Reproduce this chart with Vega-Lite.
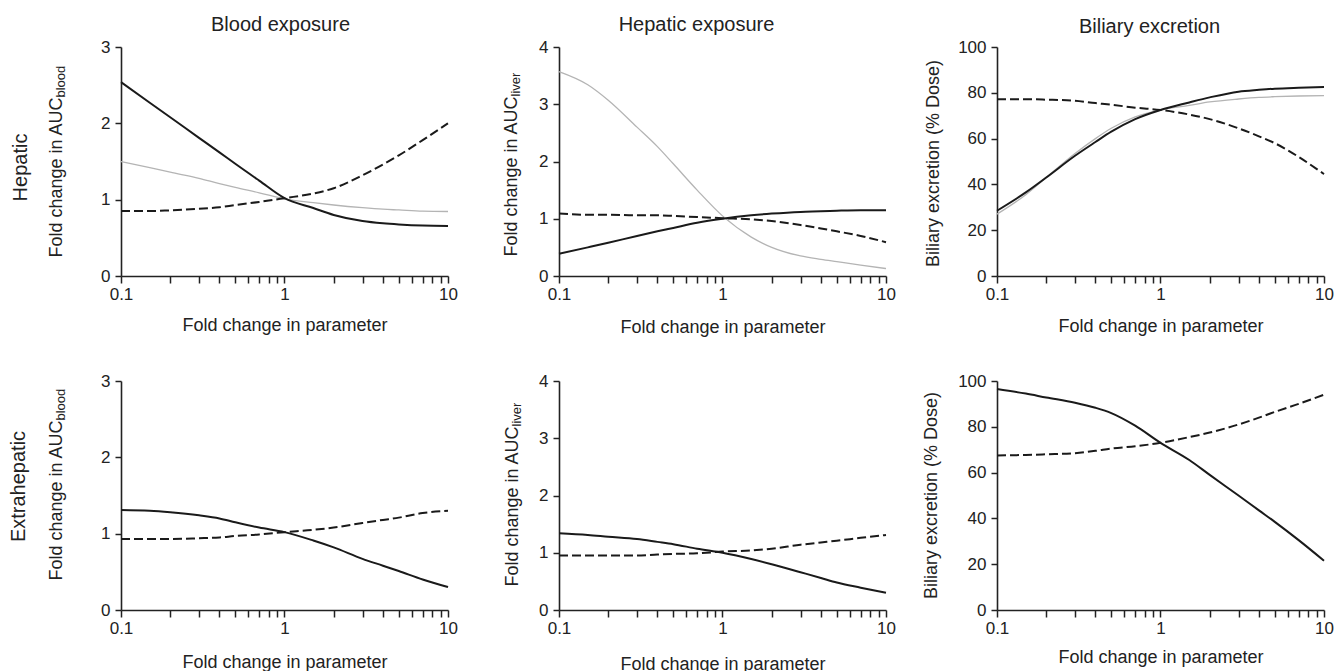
{
  "$schema": "https://vega.github.io/schema/vega-lite/v6.json",
  "padding": {"left": 7, "top": 15, "right": 0, "bottom": 0},
  "background": "white",
  "datasets": {
    "p1": [
      {"x":0.1,"y":2.54,"s":"solid"},{"x":0.15,"y":2.27,"s":"solid"},{"x":0.2,"y":2.08,"s":"solid"},{"x":0.3,"y":1.81,"s":"solid"},{"x":0.4,"y":1.62,"s":"solid"},{"x":0.5,"y":1.47,"s":"solid"},{"x":0.7,"y":1.25,"s":"solid"},{"x":1,"y":1.02,"s":"solid"},{"x":1.5,"y":0.89,"s":"solid"},{"x":2,"y":0.8,"s":"solid"},{"x":3,"y":0.72,"s":"solid"},{"x":4,"y":0.69,"s":"solid"},{"x":5,"y":0.675,"s":"solid"},{"x":7,"y":0.66,"s":"solid"},{"x":10,"y":0.655,"s":"solid"},
      {"x":0.1,"y":1.5,"s":"gray"},{"x":0.15,"y":1.42,"s":"gray"},{"x":0.2,"y":1.36,"s":"gray"},{"x":0.3,"y":1.28,"s":"gray"},{"x":0.4,"y":1.21,"s":"gray"},{"x":0.5,"y":1.16,"s":"gray"},{"x":0.7,"y":1.09,"s":"gray"},{"x":1,"y":1.01,"s":"gray"},{"x":1.5,"y":0.96,"s":"gray"},{"x":2,"y":0.93,"s":"gray"},{"x":3,"y":0.895,"s":"gray"},{"x":4,"y":0.875,"s":"gray"},{"x":5,"y":0.865,"s":"gray"},{"x":7,"y":0.85,"s":"gray"},{"x":10,"y":0.845,"s":"gray"},
      {"x":0.1,"y":0.85,"s":"dash"},{"x":0.15,"y":0.85,"s":"dash"},{"x":0.2,"y":0.86,"s":"dash"},{"x":0.3,"y":0.88,"s":"dash"},{"x":0.4,"y":0.9,"s":"dash"},{"x":0.5,"y":0.93,"s":"dash"},{"x":0.7,"y":0.97,"s":"dash"},{"x":1,"y":1.02,"s":"dash"},{"x":1.5,"y":1.08,"s":"dash"},{"x":2,"y":1.15,"s":"dash"},{"x":3,"y":1.32,"s":"dash"},{"x":4,"y":1.46,"s":"dash"},{"x":5,"y":1.58,"s":"dash"},{"x":7,"y":1.78,"s":"dash"},{"x":10,"y":2.0,"s":"dash"}
    ],
    "p2": [
      {"x":0.1,"y":0.39,"s":"solid"},{"x":0.15,"y":0.5,"s":"solid"},{"x":0.2,"y":0.58,"s":"solid"},{"x":0.3,"y":0.7,"s":"solid"},{"x":0.4,"y":0.78,"s":"solid"},{"x":0.5,"y":0.84,"s":"solid"},{"x":0.7,"y":0.93,"s":"solid"},{"x":1,"y":1.0,"s":"solid"},{"x":1.5,"y":1.06,"s":"solid"},{"x":2,"y":1.09,"s":"solid"},{"x":3,"y":1.12,"s":"solid"},{"x":4,"y":1.13,"s":"solid"},{"x":5,"y":1.14,"s":"solid"},{"x":7,"y":1.15,"s":"solid"},{"x":10,"y":1.15,"s":"solid"},
      {"x":0.1,"y":3.57,"s":"gray"},{"x":0.15,"y":3.34,"s":"gray"},{"x":0.2,"y":3.07,"s":"gray"},{"x":0.3,"y":2.6,"s":"gray"},{"x":0.4,"y":2.26,"s":"gray"},{"x":0.5,"y":1.96,"s":"gray"},{"x":0.7,"y":1.5,"s":"gray"},{"x":1,"y":1.05,"s":"gray"},{"x":1.5,"y":0.68,"s":"gray"},{"x":2,"y":0.5,"s":"gray"},{"x":3,"y":0.35,"s":"gray"},{"x":4,"y":0.29,"s":"gray"},{"x":5,"y":0.25,"s":"gray"},{"x":7,"y":0.19,"s":"gray"},{"x":10,"y":0.13,"s":"gray"},
      {"x":0.1,"y":1.09,"s":"dash"},{"x":0.15,"y":1.07,"s":"dash"},{"x":0.2,"y":1.07,"s":"dash"},{"x":0.3,"y":1.06,"s":"dash"},{"x":0.4,"y":1.06,"s":"dash"},{"x":0.5,"y":1.05,"s":"dash"},{"x":0.7,"y":1.03,"s":"dash"},{"x":1,"y":1.01,"s":"dash"},{"x":1.5,"y":0.99,"s":"dash"},{"x":2,"y":0.96,"s":"dash"},{"x":3,"y":0.89,"s":"dash"},{"x":4,"y":0.83,"s":"dash"},{"x":5,"y":0.78,"s":"dash"},{"x":7,"y":0.7,"s":"dash"},{"x":10,"y":0.59,"s":"dash"}
    ],
    "p3": [
      {"x":0.1,"y":28.5,"s":"solid"},{"x":0.15,"y":36.5,"s":"solid"},{"x":0.2,"y":43,"s":"solid"},{"x":0.3,"y":52.5,"s":"solid"},{"x":0.4,"y":58.5,"s":"solid"},{"x":0.5,"y":63,"s":"solid"},{"x":0.7,"y":68.5,"s":"solid"},{"x":1,"y":72.5,"s":"solid"},{"x":1.5,"y":75.8,"s":"solid"},{"x":2,"y":78,"s":"solid"},{"x":3,"y":80.5,"s":"solid"},{"x":4,"y":81.3,"s":"solid"},{"x":5,"y":81.8,"s":"solid"},{"x":7,"y":82.2,"s":"solid"},{"x":10,"y":82.5,"s":"solid"},
      {"x":0.1,"y":27,"s":"gray"},{"x":0.15,"y":35.5,"s":"gray"},{"x":0.2,"y":43,"s":"gray"},{"x":0.3,"y":53.5,"s":"gray"},{"x":0.4,"y":60,"s":"gray"},{"x":0.5,"y":64.5,"s":"gray"},{"x":0.7,"y":69.5,"s":"gray"},{"x":1,"y":72.5,"s":"gray"},{"x":1.5,"y":74.5,"s":"gray"},{"x":2,"y":76,"s":"gray"},{"x":3,"y":77.3,"s":"gray"},{"x":4,"y":78,"s":"gray"},{"x":5,"y":78.3,"s":"gray"},{"x":7,"y":78.6,"s":"gray"},{"x":10,"y":78.8,"s":"gray"},
      {"x":0.1,"y":77.2,"s":"dash"},{"x":0.15,"y":77.2,"s":"dash"},{"x":0.2,"y":77,"s":"dash"},{"x":0.3,"y":76.5,"s":"dash"},{"x":0.4,"y":75.5,"s":"dash"},{"x":0.5,"y":74.8,"s":"dash"},{"x":0.7,"y":73.5,"s":"dash"},{"x":1,"y":72.5,"s":"dash"},{"x":1.5,"y":70.5,"s":"dash"},{"x":2,"y":68.5,"s":"dash"},{"x":3,"y":64.5,"s":"dash"},{"x":4,"y":61,"s":"dash"},{"x":5,"y":58,"s":"dash"},{"x":7,"y":52,"s":"dash"},{"x":10,"y":44.5,"s":"dash"}
    ],
    "p4": [
      {"x":0.1,"y":1.31,"s":"solid"},{"x":0.15,"y":1.3,"s":"solid"},{"x":0.2,"y":1.28,"s":"solid"},{"x":0.3,"y":1.24,"s":"solid"},{"x":0.4,"y":1.2,"s":"solid"},{"x":0.5,"y":1.15,"s":"solid"},{"x":0.7,"y":1.08,"s":"solid"},{"x":1,"y":1.02,"s":"solid"},{"x":1.5,"y":0.91,"s":"solid"},{"x":2,"y":0.82,"s":"solid"},{"x":3,"y":0.67,"s":"solid"},{"x":4,"y":0.58,"s":"solid"},{"x":5,"y":0.51,"s":"solid"},{"x":7,"y":0.4,"s":"solid"},{"x":10,"y":0.3,"s":"solid"},
      {"x":0.1,"y":0.93,"s":"dash"},{"x":0.15,"y":0.93,"s":"dash"},{"x":0.2,"y":0.93,"s":"dash"},{"x":0.3,"y":0.94,"s":"dash"},{"x":0.4,"y":0.95,"s":"dash"},{"x":0.5,"y":0.97,"s":"dash"},{"x":0.7,"y":0.99,"s":"dash"},{"x":1,"y":1.02,"s":"dash"},{"x":1.5,"y":1.05,"s":"dash"},{"x":2,"y":1.08,"s":"dash"},{"x":3,"y":1.14,"s":"dash"},{"x":4,"y":1.18,"s":"dash"},{"x":5,"y":1.21,"s":"dash"},{"x":7,"y":1.27,"s":"dash"},{"x":10,"y":1.3,"s":"dash"}
    ],
    "p5": [
      {"x":0.1,"y":1.34,"s":"solid"},{"x":0.15,"y":1.31,"s":"solid"},{"x":0.2,"y":1.28,"s":"solid"},{"x":0.3,"y":1.24,"s":"solid"},{"x":0.4,"y":1.19,"s":"solid"},{"x":0.5,"y":1.15,"s":"solid"},{"x":0.7,"y":1.07,"s":"solid"},{"x":1,"y":1.0,"s":"solid"},{"x":1.5,"y":0.89,"s":"solid"},{"x":2,"y":0.8,"s":"solid"},{"x":3,"y":0.66,"s":"solid"},{"x":4,"y":0.56,"s":"solid"},{"x":5,"y":0.48,"s":"solid"},{"x":7,"y":0.39,"s":"solid"},{"x":10,"y":0.3,"s":"solid"},
      {"x":0.1,"y":0.95,"s":"dash"},{"x":0.15,"y":0.95,"s":"dash"},{"x":0.2,"y":0.95,"s":"dash"},{"x":0.3,"y":0.95,"s":"dash"},{"x":0.4,"y":0.97,"s":"dash"},{"x":0.5,"y":0.98,"s":"dash"},{"x":0.7,"y":0.99,"s":"dash"},{"x":1,"y":1.02,"s":"dash"},{"x":1.5,"y":1.04,"s":"dash"},{"x":2,"y":1.07,"s":"dash"},{"x":3,"y":1.14,"s":"dash"},{"x":4,"y":1.18,"s":"dash"},{"x":5,"y":1.21,"s":"dash"},{"x":7,"y":1.26,"s":"dash"},{"x":10,"y":1.31,"s":"dash"}
    ],
    "p6": [
      {"x":0.1,"y":96.5,"s":"solid"},{"x":0.15,"y":94.5,"s":"solid"},{"x":0.2,"y":92.8,"s":"solid"},{"x":0.3,"y":90.5,"s":"solid"},{"x":0.4,"y":88.3,"s":"solid"},{"x":0.5,"y":86,"s":"solid"},{"x":0.7,"y":80.5,"s":"solid"},{"x":1,"y":73,"s":"solid"},{"x":1.5,"y":65.5,"s":"solid"},{"x":2,"y":59,"s":"solid"},{"x":3,"y":50,"s":"solid"},{"x":4,"y":43.5,"s":"solid"},{"x":5,"y":38.5,"s":"solid"},{"x":7,"y":30.5,"s":"solid"},{"x":10,"y":21.5,"s":"solid"},
      {"x":0.1,"y":67.5,"s":"dash"},{"x":0.15,"y":67.7,"s":"dash"},{"x":0.2,"y":68,"s":"dash"},{"x":0.3,"y":68.5,"s":"dash"},{"x":0.4,"y":69.5,"s":"dash"},{"x":0.5,"y":70.5,"s":"dash"},{"x":0.7,"y":71.5,"s":"dash"},{"x":1,"y":73,"s":"dash"},{"x":1.5,"y":75.5,"s":"dash"},{"x":2,"y":77.5,"s":"dash"},{"x":3,"y":81,"s":"dash"},{"x":4,"y":84,"s":"dash"},{"x":5,"y":86.5,"s":"dash"},{"x":7,"y":90,"s":"dash"},{"x":10,"y":94,"s":"dash"}
    ]
  },
  "columns": 3,
  "spacing": {"row": 105, "column": 111},
  "bounds": "flush",
  "concat": [
    {
      "width": 327, "height": 229,
      "title": {"text": "Blood exposure", "frame": "group", "anchor": "middle", "dx": -4, "offset": -13, "baseline": "alphabetic"},
      "data": {"name": "p1"},
      "encoding": {"x": {"field": "x", "type": "quantitative", "scale": {"type": "log", "domain": [0.1, 10], "nice": false}, "axis": {"values": [0.1,0.2,0.3,0.4,0.5,0.6,0.7,0.8,0.9,1,2,3,4,5,6,7,8,9,10], "labelExpr": "datum.value == 0.1 ? '0.1' : datum.value == 1 ? '1' : datum.value == 10 ? '10' : ''", "title": "Fold change in parameter", "titleY": 54, "titleBaseline": "alphabetic"}}},
      "layer": [
        {"transform": [{"filter": "datum.s == 'gray'"}], "mark": {"type": "line", "color": "#b4b4b4", "strokeWidth": 1.3, "interpolate": "monotone"},
         "encoding": {"y": {"field": "y", "type": "quantitative", "scale": {"domain": [0, 3], "nice": false}, "axis": {"values": [0,1,2,3], "title": "Fold change in AUC", "titleX": -60, "titleY": 50, "titleAlign": "right", "titleBaseline": "alphabetic", "titleAngle": -90}}}},
        {"transform": [{"filter": "datum.s == 'solid'"}], "mark": {"type": "line", "color": "#1a1a1a", "strokeWidth": 2, "interpolate": "monotone"},
         "encoding": {"y": {"field": "y", "type": "quantitative", "axis": {"orient": "left", "labels": false, "ticks": false, "domain": false, "title": "blood", "titleFontSize": 13, "titleX": -57, "titleY": 50, "titleAlign": "left", "titleBaseline": "alphabetic", "titleAngle": -90}}}},
        {"transform": [{"filter": "datum.s == 'dash'"}], "mark": {"type": "line", "color": "#1a1a1a", "strokeWidth": 2, "strokeDash": [9, 4], "interpolate": "monotone"},
         "encoding": {"y": {"field": "y", "type": "quantitative", "axis": {"orient": "left", "labels": false, "ticks": false, "domain": false, "title": "Hepatic", "titleFontSize": 20, "titleX": -95, "titleY": 120, "titleAlign": "center", "titleBaseline": "alphabetic", "titleAngle": -90}}}}
      ],
      "resolve": {"axis": {"y": "independent"}}
    },
    {
      "width": 327, "height": 229,
      "title": {"text": "Hepatic exposure", "frame": "group", "anchor": "middle", "dx": -26, "offset": -13, "baseline": "alphabetic"},
      "data": {"name": "p2"},
      "encoding": {"x": {"field": "x", "type": "quantitative", "scale": {"type": "log", "domain": [0.1, 10], "nice": false}, "axis": {"values": [0.1,0.2,0.3,0.4,0.5,0.6,0.7,0.8,0.9,1,2,3,4,5,6,7,8,9,10], "labelExpr": "datum.value == 0.1 ? '0.1' : datum.value == 1 ? '1' : datum.value == 10 ? '10' : ''", "title": "Fold change in parameter", "titleY": 56, "titleBaseline": "alphabetic"}}},
      "layer": [
        {"transform": [{"filter": "datum.s == 'gray'"}], "mark": {"type": "line", "color": "#b4b4b4", "strokeWidth": 1.3, "interpolate": "monotone"},
         "encoding": {"y": {"field": "y", "type": "quantitative", "scale": {"domain": [0, 4], "nice": false}, "axis": {"values": [0,1,2,3,4], "title": "Fold change in AUC", "titleX": -43, "titleY": 49, "titleAlign": "right", "titleBaseline": "alphabetic", "titleAngle": -90}}}},
        {"transform": [{"filter": "datum.s == 'solid'"}], "mark": {"type": "line", "color": "#1a1a1a", "strokeWidth": 2, "interpolate": "monotone"},
         "encoding": {"y": {"field": "y", "type": "quantitative", "axis": {"orient": "left", "labels": false, "ticks": false, "domain": false, "title": "liver", "titleFontSize": 13, "titleX": -40, "titleY": 49, "titleAlign": "left", "titleBaseline": "alphabetic", "titleAngle": -90}}}},
        {"transform": [{"filter": "datum.s == 'dash'"}], "mark": {"type": "line", "color": "#1a1a1a", "strokeWidth": 2, "strokeDash": [9, 4], "interpolate": "monotone"},
         "encoding": {"y": {"field": "y", "type": "quantitative", "axis": null}}}
      ],
      "resolve": {"axis": {"y": "independent"}}
    },
    {
      "width": 327, "height": 229,
      "title": {"text": "Biliary excretion", "frame": "group", "anchor": "middle", "dx": -11, "offset": -15, "baseline": "alphabetic"},
      "data": {"name": "p3"},
      "encoding": {"x": {"field": "x", "type": "quantitative", "scale": {"type": "log", "domain": [0.1, 10], "nice": false}, "axis": {"values": [0.1,0.2,0.3,0.4,0.5,0.6,0.7,0.8,0.9,1,2,3,4,5,6,7,8,9,10], "labelExpr": "datum.value == 0.1 ? '0.1' : datum.value == 1 ? '1' : datum.value == 10 ? '10' : ''", "title": "Fold change in parameter", "titleY": 55, "titleBaseline": "alphabetic"}}},
      "layer": [
        {"transform": [{"filter": "datum.s == 'gray'"}], "mark": {"type": "line", "color": "#b4b4b4", "strokeWidth": 1.3, "interpolate": "monotone"},
         "encoding": {"y": {"field": "y", "type": "quantitative", "scale": {"domain": [0, 100], "nice": false}, "axis": {"values": [0,20,40,60,80,100], "title": "Biliary excretion (% Dose)", "titleX": -59, "titleY": 116, "titleAlign": "center", "titleBaseline": "alphabetic", "titleAngle": -90}}}},
        {"transform": [{"filter": "datum.s == 'solid'"}], "mark": {"type": "line", "color": "#1a1a1a", "strokeWidth": 2, "interpolate": "monotone"},
         "encoding": {"y": {"field": "y", "type": "quantitative", "axis": null}}},
        {"transform": [{"filter": "datum.s == 'dash'"}], "mark": {"type": "line", "color": "#1a1a1a", "strokeWidth": 2, "strokeDash": [9, 4], "interpolate": "monotone"},
         "encoding": {"y": {"field": "y", "type": "quantitative", "axis": null}}}
      ],
      "resolve": {"axis": {"y": "independent"}}
    },
    {
      "width": 327, "height": 229,
      "data": {"name": "p4"},
      "encoding": {"x": {"field": "x", "type": "quantitative", "scale": {"type": "log", "domain": [0.1, 10], "nice": false}, "axis": {"values": [0.1,0.2,0.3,0.4,0.5,0.6,0.7,0.8,0.9,1,2,3,4,5,6,7,8,9,10], "labelExpr": "datum.value == 0.1 ? '0.1' : datum.value == 1 ? '1' : datum.value == 10 ? '10' : ''", "title": "Fold change in parameter", "titleY": 57, "titleBaseline": "alphabetic"}}},
      "layer": [
        {"transform": [{"filter": "datum.s == 'solid'"}], "mark": {"type": "line", "color": "#1a1a1a", "strokeWidth": 2, "interpolate": "monotone"},
         "encoding": {"y": {"field": "y", "type": "quantitative", "scale": {"domain": [0, 3], "nice": false}, "axis": {"values": [0,1,2,3], "title": "Fold change in AUC", "titleX": -60, "titleY": 39, "titleAlign": "right", "titleBaseline": "alphabetic", "titleAngle": -90}}}},
        {"transform": [{"filter": "datum.s == 'dash'"}], "mark": {"type": "line", "color": "#1a1a1a", "strokeWidth": 2, "strokeDash": [9, 4], "interpolate": "monotone"},
         "encoding": {"y": {"field": "y", "type": "quantitative", "axis": {"orient": "left", "labels": false, "ticks": false, "domain": false, "title": "blood", "titleFontSize": 13, "titleX": -57, "titleY": 39, "titleAlign": "left", "titleBaseline": "alphabetic", "titleAngle": -90}}}},
        {"transform": [{"filter": "datum.s == 'solid'"}], "mark": {"type": "line", "opacity": 0},
         "encoding": {"y": {"field": "y", "type": "quantitative", "axis": {"orient": "left", "labels": false, "ticks": false, "domain": false, "title": "Extrahepatic", "titleFontSize": 20, "titleX": -97, "titleY": 105, "titleAlign": "center", "titleBaseline": "alphabetic", "titleAngle": -90}}}}
      ],
      "resolve": {"axis": {"y": "independent"}}
    },
    {
      "width": 327, "height": 229,
      "data": {"name": "p5"},
      "encoding": {"x": {"field": "x", "type": "quantitative", "scale": {"type": "log", "domain": [0.1, 10], "nice": false}, "axis": {"values": [0.1,0.2,0.3,0.4,0.5,0.6,0.7,0.8,0.9,1,2,3,4,5,6,7,8,9,10], "labelExpr": "datum.value == 0.1 ? '0.1' : datum.value == 1 ? '1' : datum.value == 10 ? '10' : ''", "title": "Fold change in parameter", "titleY": 59, "titleBaseline": "alphabetic"}}},
      "layer": [
        {"transform": [{"filter": "datum.s == 'solid'"}], "mark": {"type": "line", "color": "#1a1a1a", "strokeWidth": 2, "interpolate": "monotone"},
         "encoding": {"y": {"field": "y", "type": "quantitative", "scale": {"domain": [0, 4], "nice": false}, "axis": {"values": [0,1,2,3,4], "title": "Fold change in AUC", "titleX": -42, "titleY": 45, "titleAlign": "right", "titleBaseline": "alphabetic", "titleAngle": -90}}}},
        {"transform": [{"filter": "datum.s == 'dash'"}], "mark": {"type": "line", "color": "#1a1a1a", "strokeWidth": 2, "strokeDash": [9, 4], "interpolate": "monotone"},
         "encoding": {"y": {"field": "y", "type": "quantitative", "axis": {"orient": "left", "labels": false, "ticks": false, "domain": false, "title": "liver", "titleFontSize": 13, "titleX": -39, "titleY": 45, "titleAlign": "left", "titleBaseline": "alphabetic", "titleAngle": -90}}}}
      ],
      "resolve": {"axis": {"y": "independent"}}
    },
    {
      "width": 327, "height": 229,
      "data": {"name": "p6"},
      "encoding": {"x": {"field": "x", "type": "quantitative", "scale": {"type": "log", "domain": [0.1, 10], "nice": false}, "axis": {"values": [0.1,0.2,0.3,0.4,0.5,0.6,0.7,0.8,0.9,1,2,3,4,5,6,7,8,9,10], "labelExpr": "datum.value == 0.1 ? '0.1' : datum.value == 1 ? '1' : datum.value == 10 ? '10' : ''", "title": "Fold change in parameter", "titleY": 52, "titleBaseline": "alphabetic"}}},
      "layer": [
        {"transform": [{"filter": "datum.s == 'solid'"}], "mark": {"type": "line", "color": "#1a1a1a", "strokeWidth": 2, "interpolate": "monotone"},
         "encoding": {"y": {"field": "y", "type": "quantitative", "scale": {"domain": [0, 100], "nice": false}, "axis": {"values": [0,20,40,60,80,100], "title": "Biliary excretion (% Dose)", "titleX": -61, "titleY": 114, "titleAlign": "center", "titleBaseline": "alphabetic", "titleAngle": -90}}}},
        {"transform": [{"filter": "datum.s == 'dash'"}], "mark": {"type": "line", "color": "#1a1a1a", "strokeWidth": 2, "strokeDash": [9, 4], "interpolate": "monotone"},
         "encoding": {"y": {"field": "y", "type": "quantitative", "axis": null}}}
      ],
      "resolve": {"axis": {"y": "independent"}}
    }
  ],
  "config": {
    "font": "Liberation Sans",
    "view": {"stroke": null},
    "axis": {"grid": false, "domainColor": "#222", "domainWidth": 1.6, "tickColor": "#222", "tickWidth": 1.5, "labelFont": "Liberation Sans", "labelFontSize": 17, "labelColor": "#222", "titleFont": "Liberation Sans", "titleFontSize": 18, "titleFontWeight": "normal", "titleColor": "#222", "labelFlush": false, "labelOverlap": false},
    "axisX": {"tickSize": 7, "labelPadding": 3},
    "axisY": {"tickSize": 6, "labelPadding": 5},
    "title": {"font": "Liberation Sans", "fontSize": 20, "fontWeight": "normal", "color": "#222"}
  }
}
